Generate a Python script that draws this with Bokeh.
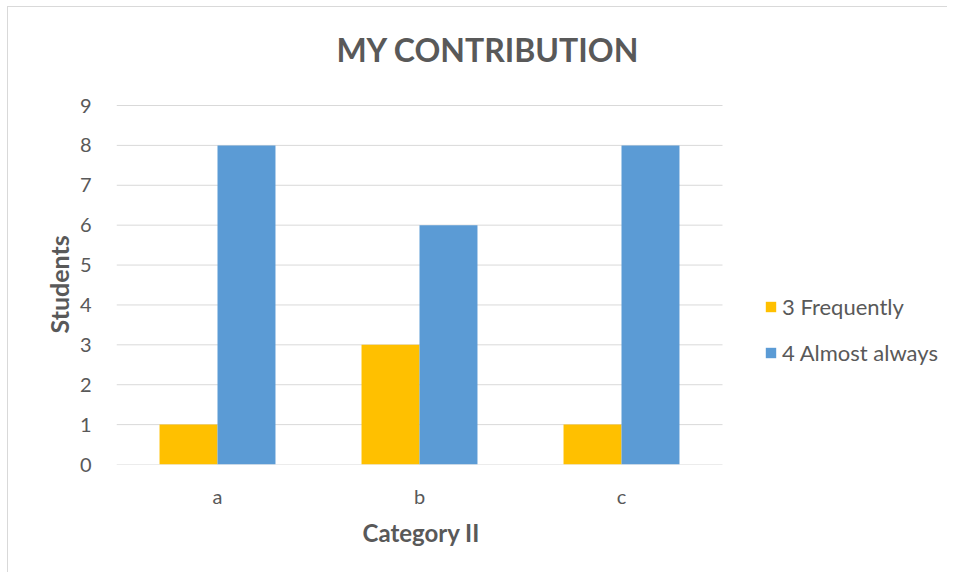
import numpy as np
from bokeh.plotting import figure
from bokeh.models import ColumnDataSource, Legend, LegendItem, Range1d, FixedTicker, Title, Label
from bokeh.embed import file_html
from bokeh.resources import INLINE

categories = ["a", "b", "c"]
frequently = [1, 3, 1]
almost_always = [8, 6, 8]
series_names = ["3 Frequently", "4 Almost always"]
y_ticks = list(range(0, 10))
title_text = "MY CONTRIBUTION"

FONT = "Lato"
TXT = "#595959"
GRID = "#d9d9d9"

xc = np.arange(len(categories)) + 0.5
BW = 0.287

src = ColumnDataSource(dict(xf=xc - BW / 2, xa=xc + BW / 2, f=frequently, a=almost_always))

W, H = 940, 566
ML, MR, MT, MB = 108, 3, 0, 109
frame_w = W - ML - MR
frame_h = H - MT - MB
x_end = len(categories) * frame_w / 606.0       # categories occupy 606px of the frame
px_per_unit = (frame_h - 98) / 9.0               # top gridline sits 98px below frame top
y_end = frame_h / px_per_unit

p = figure(x_range=Range1d(0, x_end), y_range=Range1d(0, y_end),
           width=W, height=H, output_backend="svg", toolbar_location=None,
           min_border_left=ML, min_border_right=MR, min_border_top=MT, min_border_bottom=MB)

p.segment(x0=[0] * len(y_ticks), x1=[len(categories)] * len(y_ticks), y0=y_ticks, y1=y_ticks,
          line_color=GRID, line_width=1)

r1 = p.vbar(x="xf", top="f", width=BW, source=src, fill_color="#FFC000", line_color=None)
r2 = p.vbar(x="xa", top="a", width=BW, source=src, fill_color="#5B9BD5", line_color=None)

p.add_layout(Label(x=371.5, y=frame_h - 42, x_units="screen", y_units="screen",
                   text=title_text, text_align="center", text_baseline="alphabetic",
                   text_font=FONT, text_font_size="32px", text_font_style="bold",
                   text_color=TXT))

p.outline_line_color = None
p.xgrid.grid_line_color = None
p.ygrid.grid_line_color = None
p.yaxis.ticker = FixedTicker(ticks=y_ticks)
p.xaxis.ticker = FixedTicker(ticks=list(xc))
p.xaxis.major_label_overrides = {float(x): c for x, c in zip(xc, categories)}

for ax in (p.xaxis[0], p.yaxis[0]):
    ax.major_tick_line_color = None
    ax.minor_tick_line_color = None
    ax.axis_line_color = None
    ax.major_label_text_font = FONT
    ax.major_label_text_font_size = "20px"
    ax.major_label_text_color = TXT

p.yaxis.major_label_standoff = 19
p.xaxis.major_label_standoff = 13

yt = Title(text="Students", align="left", offset=131, standoff=5,
           text_font=FONT, text_font_size="25px", text_font_style="bold", text_color=TXT)
p.add_layout(yt, "left")

xt = Title(text="Category II", align="left", offset=246, standoff=10,
           text_font=FONT, text_font_size="24px", text_font_style="bold", text_color=TXT)
p.add_layout(xt, "below")

legend = Legend(items=[LegendItem(label=series_names[0], renderers=[r1]),
                       LegendItem(label=series_names[1], renderers=[r2])],
                location=(648, 98), orientation="vertical",
                glyph_width=13, glyph_height=13, label_height=20, spacing=19,
                label_standoff=5, padding=0, margin=0,
                label_text_font=FONT, label_text_font_size="22px", label_text_color=TXT,
                border_line_color=None, background_fill_alpha=0)
p.add_layout(legend, "center")

p.styles = {"border-left": "1px solid #d9d9d9", "border-top": "1px solid #d9d9d9",
            "margin-left": "7px", "margin-top": "6px"}

open("out.html", "w").write(file_html(p, INLINE))
